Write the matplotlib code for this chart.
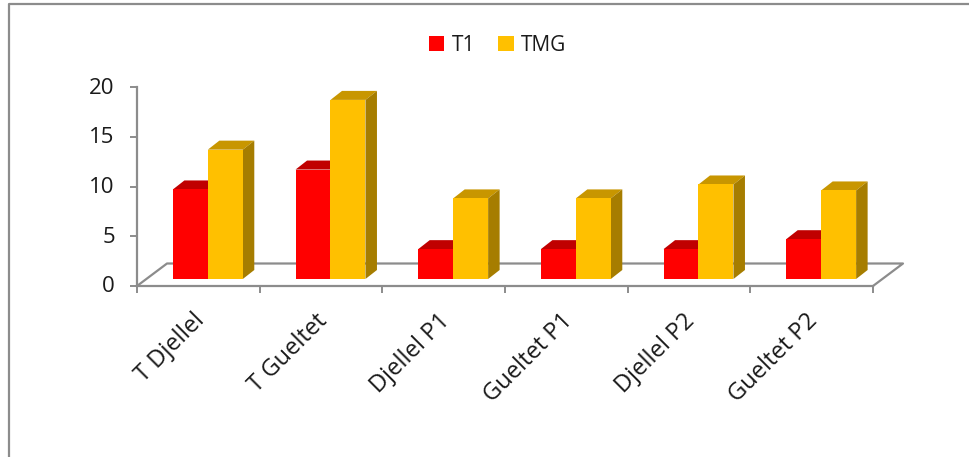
import matplotlib
matplotlib.use("Agg")
import numpy as np
import matplotlib.pyplot as plt
from matplotlib.patches import Polygon, Patch
from matplotlib.transforms import ScaledTranslation, IdentityTransform
from matplotlib.lines import Line2D

categories = ["T Djellel", "T Gueltet", "Djellel P1", "Gueltet P1", "Djellel P2", "Gueltet P2"]
t1 = [9, 11, 3, 3, 3, 4]
tmg = [13, 18, 8.1, 8.1, 9.5, 8.9]
yticks = [0, 5, 10, 15, 20]

RED, RED_TOP, RED_SIDE = "#FF0000", "#C00000", "#A00000"
YEL, YEL_TOP, YEL_SIDE = "#FFC000", "#C89600", "#A67D00"
GRID = "#8C8C8C"
INK = "#1a1a1a"

W, H, DPI = 970, 457, 100
plt.rcParams["font.family"] = ["Open Sans", "DejaVu Sans"]
plt.rcParams["text.color"] = INK

fig = plt.figure(figsize=(W / DPI, H / DPI), dpi=DPI)
ax = fig.add_axes([137 / W, (H - 286) / H, 736 / W, 199 / H])
ax.set_xlim(0, len(categories))
ax.set_ylim(0, 20)

# only the front floor edge and the value axis are real spines
for s in ("top", "right"):
    ax.spines[s].set_visible(False)
for s in ("left", "bottom"):
    ax.spines[s].set_color(GRID)
    ax.spines[s].set_linewidth(1.6)
ax.set_yticks(yticks)
ax.tick_params(axis="y", length=5, width=1.4, color=GRID, labelsize=16,
               labelcolor=INK, pad=11)
for lab in ax.get_yticklabels():
    lab.set_transform(lab.get_transform() + ScaledTranslation(0, 1.5 / DPI, fig.dpi_scale_trans))

ax.set_xticks(np.arange(len(categories) + 1))
ax.set_xticklabels([])
ax.tick_params(axis="x", which="major", length=5, width=1.4, color=GRID)
centers = np.arange(len(categories)) + 0.5
ax.set_xticks(centers, minor=True)
ax.set_xticklabels(categories, minor=True, rotation=45, ha="right",
                   rotation_mode="anchor", fontsize=17, color=INK)
ax.tick_params(axis="x", which="minor", length=0, pad=15)
for lab in ax.get_xticklabels(minor=True):
    lab.set_transform(lab.get_transform() + ScaledTranslation(-6 / DPI, -2 / DPI, fig.dpi_scale_trans))

# bars sit a little behind the front edge of the floor
bar_off = ScaledTranslation(9.5 / DPI, 7 / DPI, fig.dpi_scale_trans)
bar_tr = ax.transData + bar_off
bw = 0.285
b1 = ax.bar(centers - bw / 2, t1, bw, color=RED, transform=bar_tr, zorder=2.5, clip_on=False)
b2 = ax.bar(centers + bw / 2, tmg, bw, color=YEL, transform=bar_tr, zorder=5, clip_on=False)

fig.canvas.draw()
DX, DY = 11.5, 9  # column depth in pixels


def faces(rects, top_c, side_c, z):
    for r in rects:
        x0, x1, h = r.get_x(), r.get_x() + r.get_width(), r.get_height()
        (ax0, ay0), (ax1, ay1) = bar_tr.transform([(x0, h), (x1, h)])
        _, by = bar_tr.transform((x1, 0))
        top = [(ax0, ay0), (ax1, ay1), (ax1 + DX, ay1 + DY), (ax0 + DX, ay0 + DY)]
        side = [(ax1, by), (ax1, ay1), (ax1 + DX, ay1 + DY), (ax1 + DX, by + DY)]
        for pts, c in ((top, top_c), (side, side_c)):
            ax.add_patch(Polygon(pts, closed=True, facecolor=c, edgecolor="none",
                                 transform=IdentityTransform(), zorder=z, clip_on=False))


faces(b1, RED_TOP, RED_SIDE, 2)
faces(b2, YEL_TOP, YEL_SIDE, 4)

# floor outline behind the bars
p0 = ax.transData.transform((0, 0))
p6 = ax.transData.transform((len(categories), 0))
FX, FY = 30, 22.5
fx = [p0[0], p0[0] + FX, p6[0] + FX, p6[0]]
fy = [p0[1], p0[1] + FY, p6[1] + FY, p6[1]]
ax.add_line(Line2D(fx, fy, color=GRID, lw=1.6, transform=IdentityTransform(),
                   zorder=1, clip_on=False))

# legend
handles = [Patch(facecolor=RED), Patch(facecolor=YEL)]
fig.legend(handles, ["T1", "TMG"], loc="center", bbox_to_anchor=(0.513, 0.901),
           ncol=2, frameon=False, fontsize=15, handlelength=0.75, handleheight=0.75,
           handletextpad=0.35, columnspacing=1.1)

# chart frame
fig.add_artist(Line2D([8.5, 8.5, W], [0, H - 3.5, H - 3.5], color=GRID, lw=1.6,
                      transform=IdentityTransform()))

fig.savefig("out.png", dpi=DPI, facecolor="white")
